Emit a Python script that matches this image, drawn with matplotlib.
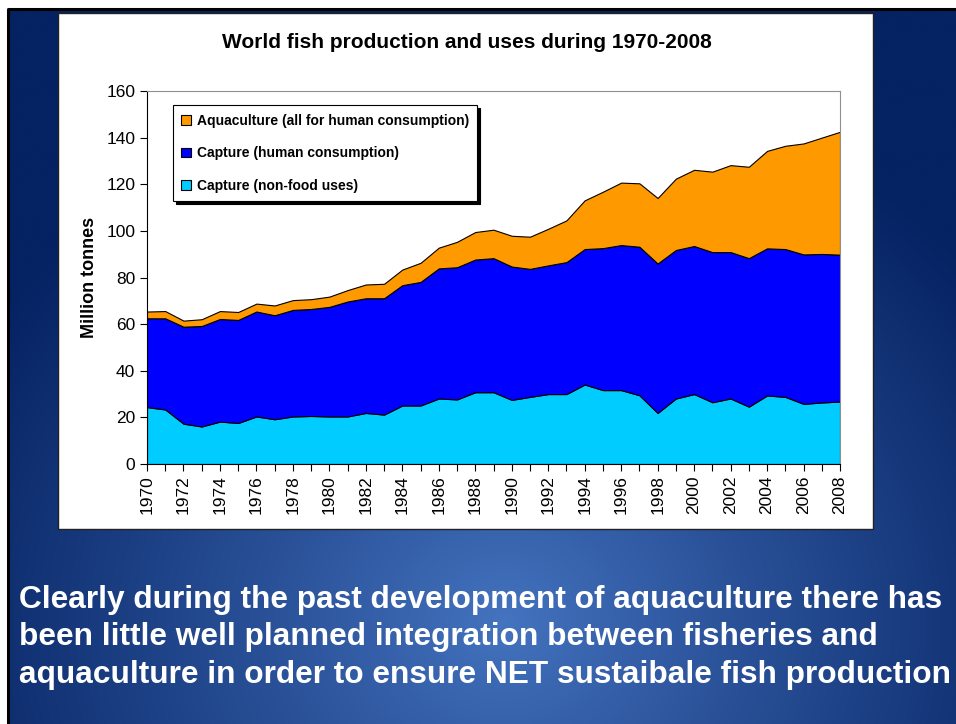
import numpy as np
import matplotlib.pyplot as plt
from matplotlib.patches import Rectangle, Patch

years = list(range(1970, 2009))

# million tonnes
nonfood = [24.4, 23.4, 17.3, 16.1, 18.2, 17.6, 20.4, 19.2, 20.4, 20.6,
           20.4, 20.4, 21.9, 21.2, 25.1, 25.1, 28.1, 27.7, 30.8, 30.8,
           27.5, 28.8, 30.0, 30.0, 34.1, 31.7, 31.7, 29.5, 21.9, 28.1,
           30.0, 26.5, 28.1, 24.6, 29.4, 28.8, 25.8, 26.4, 26.8]
human = [38.1, 39.1, 41.6, 43.1, 44.0, 44.2, 45.0, 44.6, 45.7, 45.9,
         47.0, 49.3, 49.2, 49.9, 51.6, 53.0, 55.8, 56.7, 56.9, 57.5,
         57.2, 54.9, 55.2, 56.6, 58.1, 60.9, 62.2, 63.7, 64.1, 63.7,
         63.5, 64.4, 62.8, 63.7, 63.1, 63.4, 64.1, 63.7, 63.0]
aqua = [2.9, 3.1, 2.6, 2.9, 3.4, 3.4, 3.4, 4.2, 4.2, 4.2,
        4.4, 4.9, 5.9, 6.2, 6.7, 8.2, 8.9, 10.9, 11.8, 12.2,
        13.2, 13.8, 15.7, 17.9, 20.9, 24.2, 26.8, 27.2, 28.1, 30.6,
        32.7, 34.5, 37.3, 39.2, 41.8, 44.3, 47.6, 49.9, 52.7]

labels = ["Capture (non-food uses)", "Capture (human consumption)",
          "Aquaculture (all for human consumption)"]
colors = ["#00CCFF", "#0000FF", "#FF9900"]

W, H = 956, 724
fig = plt.figure(figsize=(W / 100, H / 100), dpi=100)
fig.patch.set_facecolor("white")

# slide background (pixel coordinates)
bg = fig.add_axes([0, 0, 1, 1])
bg.set_xlim(0, W)
bg.set_ylim(H, 0)
bg.axis("off")
yy, xx = np.mgrid[0:H, 0:W]
r = np.sqrt(((xx - 500) / 620.0) ** 2 + ((yy - 620) / 560.0) ** 2)
t = np.clip(r, 0, 1) ** 0.9
c0 = np.array([0x45, 0x74, 0xc0]) / 255.0
c1 = np.array([0x05, 0x22, 0x62]) / 255.0
img = c0[None, None, :] * (1 - t[..., None]) + c1[None, None, :] * t[..., None]
bg.imshow(img, extent=(9, W, H, 10), aspect="auto", zorder=0)
bg.plot([8, 8, W], [H, 9, 9], color="black", lw=2.2, zorder=1)
bg.add_patch(Rectangle((58, 13), 815, 516, facecolor="white",
                       edgecolor="#222222", lw=1.0, zorder=2))

bg.text(467, 42, "World fish production and uses during 1970-2008",
        ha="center", va="center", fontsize=15, fontweight="bold",
        family="Liberation Sans", color="black", zorder=3)

msg = ["Clearly during the past development of aquaculture there has",
       "been little well planned integration between fisheries and",
       "aquaculture in order to ensure NET sustaibale fish production"]
for i, line in enumerate(msg):
    bg.text(19, 600 + i * 37.5, line, ha="left", va="center",
            fontsize=22.8, fontweight="bold", family="Liberation Sans",
            color="white", zorder=3)

# chart
ax = fig.add_axes([147 / W, 1 - 464 / H, 693 / W, 373 / H])
ax.set_zorder(5)
ax.set_facecolor("white")
ax.stackplot(years, nonfood, human, aqua, colors=colors,
             edgecolor="black", linewidth=0.8)
ax.set_xlim(1970, 2008)
ax.set_ylim(0, 160)
ax.set_yticks(range(0, 161, 20))
ax.set_xticks(years[::2])
ax.set_xticks(years, minor=True)
ax.set_xticklabels([str(y) for y in years[::2]], rotation=90,
                   family="Liberation Sans", fontsize=12.5)
for lab in ax.get_yticklabels():
    lab.set_family("Liberation Sans")
    lab.set_fontsize(12.5)
ax.tick_params(axis="both", which="both", direction="out", length=5,
               width=0.8, color="black")
ax.tick_params(axis="x", which="major", pad=3)
ax.set_ylabel("Million tonnes", fontsize=13, fontweight="bold",
              family="Liberation Sans", labelpad=6)
ax.spines["left"].set_color("black")
ax.spines["bottom"].set_color("black")
ax.spines["top"].set_color("#909090")
ax.spines["right"].set_color("#909090")

handles = [Patch(facecolor=colors[i], edgecolor="black", lw=0.8)
           for i in (2, 1, 0)]
leg = ax.legend(handles, [labels[i] for i in (2, 1, 0)], loc="upper left",
                bbox_to_anchor=(0.0375, 0.962), borderaxespad=0,
                frameon=True, fancybox=False, shadow={"color": "black", "alpha": 1},
                prop={"family": "Liberation Sans", "weight": "bold", "size": 10},
                handlelength=0.7, handleheight=0.7, handletextpad=0.4,
                labelspacing=1.35, borderpad=0.6)
leg.get_frame().set_edgecolor("black")
leg.get_frame().set_linewidth(0.8)

fig.savefig("out.png", dpi=100)
